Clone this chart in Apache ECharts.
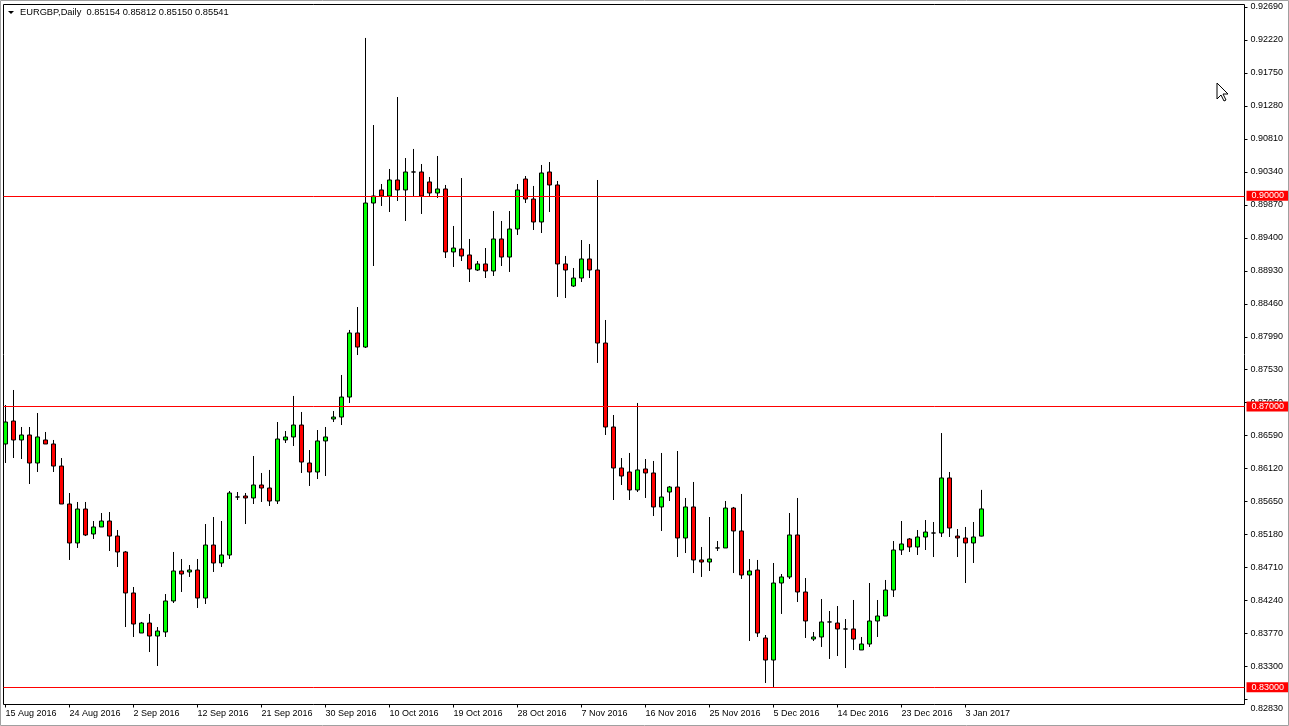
<!DOCTYPE html>
<html><head><meta charset="utf-8">
<script src="https://cdn.jsdelivr.net/npm/echarts@6/dist/echarts.min.js"></script>
<style>html,body{margin:0;padding:0;background:#fff}#c{width:1289px;height:726px}</style>
</head><body><div id="c"></div>
<script>
const symbolName = 'EURGBP,Daily';
const tickLabels = ['15 Aug 2016','24 Aug 2016','2 Sep 2016','12 Sep 2016','21 Sep 2016','30 Sep 2016','10 Oct 2016','19 Oct 2016','28 Oct 2016','7 Nov 2016','16 Nov 2016','25 Nov 2016','5 Dec 2016','14 Dec 2016','23 Dec 2016','3 Jan 2017'];
const tickBars = [0,8,16,24,32,40,48,56,64,72,80,88,96,104,112,120];
const priceTicks = [0.9269,0.9222,0.9175,0.9128,0.9081,0.9034,0.8987,0.894,0.8893,0.8846,0.8799,0.8753,0.8706,0.8659,0.8612,0.8565,0.8518,0.8471,0.8424,0.8377,0.833,0.8283];
const levelLines = [0.9, 0.87, 0.83];

const open = [
0.86466,0.86793,0.86523,0.86594,0.86195,0.86523,0.86466,0.86152,0.85611,0.85056,
0.85540,0.85184,0.85284,0.85369,0.85155,0.84928,0.84344,0.83774,0.83916,0.83731,
0.83788,0.84230,0.84657,0.84643,0.84671,0.84272,0.85027,0.84771,0.84885,0.85711,
0.85725,0.85697,0.85882,0.85839,0.85654,0.86523,0.86566,0.86736,0.86195,0.86067,
0.86509,0.86822,0.86850,0.87135,0.88047,0.87847,0.89898,0.90084,0.89998,0.90226,
0.90084,0.90340,0.90340,0.90198,0.90041,0.90098,0.89201,0.89243,0.89158,0.88944,
0.89030,0.88930,0.89386,0.89129,0.89528,0.90240,0.89955,0.89628,0.90340,0.90155,
0.89030,0.88716,0.88830,0.89101,0.88944,0.87904,0.86708,0.86124,0.86067,0.85811,
0.86110,0.86053,0.85569,0.85782,0.85853,0.85127,0.85569,0.84814,0.84785,0.84985,
0.84985,0.85554,0.85227,0.84600,0.84671,0.83703,0.83389,0.84486,0.84572,0.85170,
0.84358,0.83688,0.83717,0.83931,0.83916,0.83831,0.83831,0.83532,0.83617,0.83945,
0.84016,0.84386,0.84956,0.85113,0.84999,0.85141,0.85198,0.85198,0.85982,0.85155,
0.85127,0.85056,0.85154];
const close = [
0.86779,0.86523,0.86594,0.86195,0.86566,0.86466,0.86152,0.85611,0.85056,0.85540,
0.85170,0.85284,0.85369,0.85155,0.84928,0.84344,0.83902,0.83916,0.83731,0.83802,
0.84230,0.84657,0.84614,0.84671,0.84272,0.85027,0.84771,0.84885,0.85768,0.85711,
0.85697,0.85882,0.85839,0.85654,0.86537,0.86566,0.86736,0.86209,0.86067,0.86509,
0.86566,0.86850,0.87135,0.88047,0.87847,0.89898,0.89998,0.89998,0.90226,0.90084,
0.90340,0.90340,0.89998,0.90041,0.90098,0.89201,0.89257,0.89144,0.88958,0.89030,
0.88930,0.89386,0.89129,0.89528,0.90084,0.89955,0.89628,0.90326,0.90155,0.89030,
0.88944,0.88830,0.89101,0.88944,0.87904,0.86708,0.86124,0.86010,0.85811,0.86096,
0.86053,0.85569,0.85711,0.85853,0.85127,0.85569,0.84814,0.84785,0.84828,0.84985,
0.85554,0.85227,0.84600,0.84657,0.83774,0.83389,0.84486,0.84572,0.85170,0.84358,
0.83945,0.83717,0.83931,0.83931,0.83831,0.83831,0.83688,0.83617,0.83945,0.84016,
0.84386,0.84956,0.85042,0.84999,0.85141,0.85212,0.85198,0.85982,0.85269,0.85127,
0.85056,0.85141,0.85541];
const low = [
0.86195,0.86266,0.86252,0.85896,0.86067,0.86466,0.86067,0.85611,0.84814,0.84985,
0.85155,0.85113,0.85284,0.84942,0.84714,0.83859,0.83717,0.83774,0.83503,0.83304,
0.83717,0.84201,0.84358,0.84572,0.84130,0.84187,0.84643,0.84714,0.84828,0.85668,
0.85326,0.85611,0.85640,0.85583,0.85611,0.86480,0.86437,0.86053,0.85868,0.85967,
0.86010,0.86779,0.86736,0.87050,0.87733,0.87833,0.89001,0.89856,0.89770,0.89927,
0.89642,0.89984,0.89742,0.89998,0.89970,0.89115,0.88987,0.89072,0.88773,0.88930,
0.88830,0.88859,0.89001,0.88916,0.89443,0.89898,0.89514,0.89471,0.89770,0.88560,
0.88545,0.88702,0.88773,0.88830,0.87620,0.86594,0.85668,0.85882,0.85668,0.85782,
0.85697,0.85440,0.85227,0.85654,0.84856,0.84913,0.84628,0.84572,0.84657,0.84942,
0.84985,0.84628,0.84543,0.83660,0.83717,0.83062,0.83005,0.84045,0.84543,0.84215,
0.83703,0.83660,0.83575,0.83404,0.83446,0.83275,0.83532,0.83532,0.83575,0.83717,
0.84016,0.84287,0.84885,0.84928,0.84885,0.84956,0.84856,0.85141,0.85141,0.84856,
0.84486,0.84771,0.85150];
const high = [
0.87021,0.87235,0.86708,0.86708,0.86907,0.86637,0.86523,0.86266,0.85768,0.85640,
0.85640,0.85369,0.85483,0.85497,0.85241,0.84942,0.84429,0.83931,0.84045,0.83859,
0.84329,0.84928,0.84828,0.84742,0.84828,0.85326,0.85426,0.85369,0.85796,0.85782,
0.85768,0.86295,0.86053,0.86096,0.86779,0.86651,0.87150,0.86922,0.86380,0.86665,
0.86708,0.86936,0.87449,0.88090,0.88417,0.92249,0.91009,0.90169,0.90383,0.91408,
0.90539,0.90668,0.90454,0.90269,0.90568,0.90155,0.89571,0.90254,0.89386,0.89072,
0.89257,0.89784,0.89642,0.89784,0.90169,0.90283,0.90141,0.90440,0.90482,0.90212,
0.89144,0.88973,0.89371,0.89314,0.90226,0.88232,0.86879,0.86266,0.86338,0.87050,
0.86252,0.86224,0.86338,0.85868,0.86366,0.85697,0.85925,0.84999,0.85426,0.85084,
0.85654,0.85569,0.85754,0.84828,0.84814,0.83745,0.84771,0.84614,0.85483,0.85697,
0.84557,0.83788,0.84258,0.84087,0.84158,0.83973,0.84244,0.83717,0.84486,0.84244,
0.84529,0.85084,0.85369,0.85127,0.85241,0.85383,0.85355,0.86622,0.86067,0.85255,
0.85284,0.85355,0.85812];

const FONT = '"Liberation Sans", Arial, sans-serif';
const chart = echarts.init(document.getElementById('c'), null, {renderer: 'canvas'});
const last = open.length - 1;
const candles = open.map((o, i) => [i, o, close[i], low[i], high[i]]);
const lowest = priceTicks[priceTicks.length - 1];
const header = symbolName + '  ' + [open[last], high[last], low[last], close[last]].map(v => v.toFixed(5)).join(' ');

const option = {
  animation: false,
  backgroundColor: '#ffffff',
  grid: {left: 3.5, right: 44.5, top: 4.5, bottom: 21.5, show: true, borderColor: '#000', borderWidth: 1, backgroundColor: 'transparent'},
  xAxis: {
    type: 'value', min: -0.25, max: 154.875,
    axisLine: {show: false, onZero: false}, splitLine: {show: false},
    axisTick: {show: true, customValues: tickBars, length: 3, lineStyle: {color: '#000'}},
    axisLabel: {customValues: tickBars, formatter: v => { const i = tickBars.indexOf(v); return i >= 0 ? tickLabels[i] : ''; },
      align: 'left', margin: 5, color: '#000', fontFamily: FONT, fontSize: 9}
  },
  yAxis: {
    type: 'value', position: 'right', min: 0.827555, max: 0.927256,
    axisLine: {show: false, onZero: false}, splitLine: {show: false},
    axisTick: {show: true, customValues: priceTicks, length: 3, lineStyle: {color: '#000'}},
    axisLabel: {customValues: priceTicks, margin: 6, color: '#000', fontFamily: FONT, fontSize: 9,
      formatter: v => Math.abs(v - lowest) < 1e-9 ? '{low|' + v.toFixed(5) + '}' : v.toFixed(5),
      rich: {low: {padding: [18, 0, 0, 0], color: '#000', fontFamily: FONT, fontSize: 9}}}
  },
  series: [{
    type: 'candlestick',
    data: candles,
    encode: {x: 0, y: [1, 2, 3, 4]},
    barWidth: 4,
    itemStyle: {color: '#00FF00', color0: '#FF0000', borderColor: '#000', borderColor0: '#000', borderColorDoji: '#000', borderWidth: 1},
    emphasis: {disabled: true},
    markLine: {
      symbol: ['none', 'none'], silent: true, animation: false,
      emphasis: {disabled: true},
      lineStyle: {color: '#FF0000', width: 1, type: 'solid'},
      label: {position: 'end', distance: 2, color: '#fff', backgroundColor: '#FF0000', padding: [1, 5, 0, 5],
        fontFamily: FONT, fontSize: 9, formatter: p => Number(p.value).toFixed(5)},
      data: levelLines.map(v => ({yAxis: v})).concat([{yAxis: close[last], lineStyle: {opacity: 0}, label: {backgroundColor: '#000'}}])
    }
  }],
  graphic: [
    {type: 'polygon', shape: {points: [[8, 11], [14, 11], [11, 14]]}, style: {fill: '#000'}},
    {type: 'text', left: 20, top: 8, style: {text: header, font: '9.3px ' + FONT, fill: '#000'}},
    {type: 'polygon', shape: {points: [[1217, 83], [1217, 99], [1221, 95], [1224, 101], [1226, 100], [1223, 94], [1228, 94]]}, style: {fill: '#fff', stroke: '#000', lineWidth: 1}, z: 50},
    {type: 'rect', shape: {x: 0.5, y: 0.5, width: 1288, height: 725}, style: {fill: 'none', stroke: '#A0A0A0', lineWidth: 1}, z: 100}
  ]
};
chart.setOption(option);
</script></body></html>
